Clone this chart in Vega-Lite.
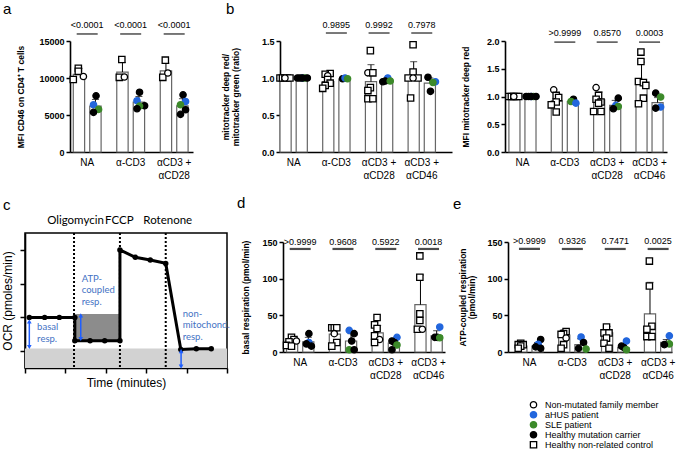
{
"$schema":"https://vega.github.io/schema/vega-lite/v6.json",
"autosize":"none",
"padding":{"left":25,"top":41,"right":652,"bottom":408},
"config":{
 "view":{"stroke":null},
 "font":"Liberation Sans",
 "axis":{"grid":false,"domainColor":"black","domainWidth":1.6,"tickColor":"black","tickWidth":1.5,"labelColor":"black","titleColor":"black","labelFont":"Liberation Sans","titleFont":"Liberation Sans"},
 "axisY":{"labelFontWeight":"bold","labelFontSize":9,"titleFontSize":8.5,"titleFontWeight":"bold","labelPadding":2,"tickSize":4,"titleLineHeight":9.5,"labelOverlap":false,"labelFlush":false},
 "axisX":{"labelFontSize":10,"ticks":false,"labelPadding":5,"labelAngle":0,"labelLineHeight":13},
 "title":{"anchor":"start","frame":"group","fontSize":15,"fontWeight":"normal","font":"Liberation Sans","color":"black","baseline":"alphabetic"},
 "legend":{"orient":"none","legendX":504,"legendY":359,"labelFont":"Liberation Sans","labelFontSize":9,"labelColor":"black","symbolSize":40,"symbolStrokeWidth":1.3,"rowPadding":0,"clipHeight":9.5,"labelOffset":7,"padding":0}
},
"datasets":{
 "a_bars":[
  {"g":"NA","sub":"ctrl","mean":10500,"hi":11300},{"g":"NA","sub":"pat","mean":6200,"hi":7100},
  {"g":"α-CD3","sub":"ctrl","mean":10800,"hi":12100},{"g":"α-CD3","sub":"pat","mean":6750,"hi":7500},
  {"g":"αCD3 + αCD28","sub":"ctrl","mean":10950,"hi":12000},{"g":"αCD3 + αCD28","sub":"pat","mean":6250,"hi":7200}],
 "a_pts":[
  {"g":"NA","slot":"C3","type":"Healthy non-related control","v":11300},
  {"g":"NA","slot":"C3","type":"Healthy non-related control","v":10900},
  {"g":"NA","slot":"C1","type":"Healthy non-related control","v":9800},
  {"g":"NA","slot":"C5","type":"Non-mutated family member","v":10200},
  {"g":"NA","slot":"P3","type":"Healthy mutation carrier","v":7590},
  {"g":"NA","slot":"P2","type":"aHUS patient","v":6380},
  {"g":"NA","slot":"P4","type":"SLE patient","v":5760},
  {"g":"NA","slot":"P2","type":"Healthy mutation carrier","v":5360},
  {"g":"α-CD3","slot":"C3","type":"Healthy non-related control","v":12500},
  {"g":"α-CD3","slot":"C2","type":"Healthy non-related control","v":10090},
  {"g":"α-CD3","slot":"C4","type":"Non-mutated family member","v":10130},
  {"g":"α-CD3","slot":"P3","type":"Healthy mutation carrier","v":8080},
  {"g":"α-CD3","slot":"P2","type":"aHUS patient","v":6920},
  {"g":"α-CD3","slot":"P5","type":"Healthy mutation carrier","v":6250},
  {"g":"α-CD3","slot":"P3","type":"SLE patient","v":6200},
  {"g":"α-CD3","slot":"P2","type":"Healthy mutation carrier","v":5850},
  {"g":"αCD3 + αCD28","slot":"C3","type":"Healthy non-related control","v":12410},
  {"g":"αCD3 + αCD28","slot":"C2","type":"Healthy non-related control","v":10090},
  {"g":"αCD3 + αCD28","slot":"C4","type":"Non-mutated family member","v":10670},
  {"g":"αCD3 + αCD28","slot":"P3","type":"Healthy mutation carrier","v":7720},
  {"g":"αCD3 + αCD28","slot":"P4","type":"aHUS patient","v":6830},
  {"g":"αCD3 + αCD28","slot":"P2","type":"SLE patient","v":6380},
  {"g":"αCD3 + αCD28","slot":"P4","type":"Healthy mutation carrier","v":5710},
  {"g":"αCD3 + αCD28","slot":"P2","type":"Healthy mutation carrier","v":5090}],
 "a_p":[{"g":"NA","p":"<0.0001"},{"g":"α-CD3","p":"<0.0001"},{"g":"αCD3 + αCD28","p":"<0.0001"}],
 "b1_bars":[
  {"g":"NA","sub":"ctrl","mean":1.0,"hi":1.0},{"g":"NA","sub":"pat","mean":1.0,"hi":1.0},
  {"g":"α-CD3","sub":"ctrl","mean":0.95,"hi":1.04},{"g":"α-CD3","sub":"pat","mean":0.985,"hi":1.0},
  {"g":"αCD3 + αCD28","sub":"ctrl","mean":0.95,"hi":1.18},{"g":"αCD3 + αCD28","sub":"pat","mean":0.96,"hi":1.0},
  {"g":"αCD3 + αCD46","sub":"ctrl","mean":0.97,"hi":1.22},{"g":"αCD3 + αCD46","sub":"pat","mean":0.93,"hi":1.0}],
 "b1_pts":[
  {"g":"NA","slot":"C1","type":"Healthy non-related control","v":1.0},
  {"g":"NA","slot":"C2","type":"Healthy non-related control","v":1.0},
  {"g":"NA","slot":"C3","type":"Healthy non-related control","v":1.0},
  {"g":"NA","slot":"C4","type":"Healthy non-related control","v":1.0},
  {"g":"NA","slot":"C5","type":"Healthy non-related control","v":1.0},
  {"g":"NA","slot":"C3","type":"Non-mutated family member","v":1.0},
  {"g":"NA","slot":"P1","type":"Healthy mutation carrier","v":1.0},
  {"g":"NA","slot":"P3","type":"aHUS patient","v":1.0},
  {"g":"NA","slot":"P4","type":"SLE patient","v":1.0},
  {"g":"NA","slot":"P2","type":"Healthy mutation carrier","v":1.0},
  {"g":"NA","slot":"P5","type":"Healthy mutation carrier","v":1.0},
  {"g":"NA","slot":"P3","type":"Healthy mutation carrier","v":1.0},
  {"g":"α-CD3","slot":"C4","type":"Healthy non-related control","v":1.06},
  {"g":"α-CD3","slot":"C2","type":"Healthy non-related control","v":1.05},
  {"g":"α-CD3","slot":"C3","type":"Non-mutated family member","v":1.03},
  {"g":"α-CD3","slot":"C3","type":"Healthy non-related control","v":0.98},
  {"g":"α-CD3","slot":"C4","type":"Healthy non-related control","v":0.93},
  {"g":"α-CD3","slot":"C2","type":"Healthy non-related control","v":0.9},
  {"g":"α-CD3","slot":"C1","type":"Healthy non-related control","v":0.86},
  {"g":"α-CD3","slot":"P2","type":"Healthy mutation carrier","v":0.99},
  {"g":"α-CD3","slot":"P3","type":"aHUS patient","v":1.0},
  {"g":"α-CD3","slot":"P4","type":"SLE patient","v":0.99},
  {"g":"αCD3 + αCD28","slot":"C3","type":"Healthy non-related control","v":1.37},
  {"g":"αCD3 + αCD28","slot":"C2","type":"Non-mutated family member","v":1.07},
  {"g":"αCD3 + αCD28","slot":"C4","type":"Healthy non-related control","v":1.07},
  {"g":"αCD3 + αCD28","slot":"C3","type":"Healthy non-related control","v":0.87},
  {"g":"αCD3 + αCD28","slot":"C2","type":"Healthy non-related control","v":0.83},
  {"g":"αCD3 + αCD28","slot":"C2","type":"Healthy non-related control","v":0.72},
  {"g":"αCD3 + αCD28","slot":"C4","type":"Healthy non-related control","v":0.72},
  {"g":"αCD3 + αCD28","slot":"P1","type":"Healthy mutation carrier","v":0.95},
  {"g":"αCD3 + αCD28","slot":"P3","type":"aHUS patient","v":1.0},
  {"g":"αCD3 + αCD28","slot":"P2","type":"Healthy mutation carrier","v":0.96},
  {"g":"αCD3 + αCD28","slot":"P4","type":"SLE patient","v":0.96},
  {"g":"αCD3 + αCD46","slot":"C3","type":"Healthy non-related control","v":1.45},
  {"g":"αCD3 + αCD46","slot":"C3","type":"Healthy non-related control","v":1.08},
  {"g":"αCD3 + αCD46","slot":"C1","type":"Healthy non-related control","v":1.0},
  {"g":"αCD3 + αCD46","slot":"C5","type":"Healthy non-related control","v":1.0},
  {"g":"αCD3 + αCD46","slot":"C3","type":"Non-mutated family member","v":1.0},
  {"g":"αCD3 + αCD46","slot":"C2","type":"Healthy non-related control","v":0.73},
  {"g":"αCD3 + αCD46","slot":"P2","type":"Healthy mutation carrier","v":1.01},
  {"g":"αCD3 + αCD46","slot":"P5","type":"aHUS patient","v":0.95},
  {"g":"αCD3 + αCD46","slot":"P4","type":"SLE patient","v":0.94},
  {"g":"αCD3 + αCD46","slot":"P3","type":"Healthy mutation carrier","v":0.82}],
 "b1_p":[{"g":"α-CD3","p":"0.9895"},{"g":"αCD3 + αCD28","p":"0.9992"},{"g":"αCD3 + αCD46","p":"0.7978"}],
 "b2_bars":[
  {"g":"NA","sub":"ctrl","mean":1.0,"hi":1.0},{"g":"NA","sub":"pat","mean":1.0,"hi":1.0},
  {"g":"α-CD3","sub":"ctrl","mean":0.92,"hi":1.05},{"g":"α-CD3","sub":"pat","mean":0.91,"hi":0.95},
  {"g":"αCD3 + αCD28","sub":"ctrl","mean":0.94,"hi":1.08},{"g":"αCD3 + αCD28","sub":"pat","mean":0.84,"hi":0.93},
  {"g":"αCD3 + αCD46","sub":"ctrl","mean":1.25,"hi":1.62},{"g":"αCD3 + αCD46","sub":"pat","mean":0.89,"hi":0.98}],
 "b2_pts":[
  {"g":"NA","slot":"C1","type":"Healthy non-related control","v":1.0},
  {"g":"NA","slot":"C2","type":"Healthy non-related control","v":1.0},
  {"g":"NA","slot":"C3","type":"Healthy non-related control","v":1.0},
  {"g":"NA","slot":"C4","type":"Healthy non-related control","v":1.0},
  {"g":"NA","slot":"C5","type":"Healthy non-related control","v":1.0},
  {"g":"NA","slot":"C3","type":"Non-mutated family member","v":1.0},
  {"g":"NA","slot":"P1","type":"Healthy mutation carrier","v":1.0},
  {"g":"NA","slot":"P3","type":"aHUS patient","v":1.0},
  {"g":"NA","slot":"P4","type":"SLE patient","v":1.0},
  {"g":"NA","slot":"P2","type":"Healthy mutation carrier","v":1.0},
  {"g":"NA","slot":"P5","type":"Healthy mutation carrier","v":1.0},
  {"g":"NA","slot":"P3","type":"Healthy mutation carrier","v":1.0},
  {"g":"α-CD3","slot":"C2","type":"Non-mutated family member","v":1.12},
  {"g":"α-CD3","slot":"C3","type":"Healthy non-related control","v":1.02},
  {"g":"α-CD3","slot":"C4","type":"Healthy non-related control","v":0.98},
  {"g":"α-CD3","slot":"C3","type":"Healthy non-related control","v":0.9},
  {"g":"α-CD3","slot":"C1","type":"Healthy non-related control","v":0.85},
  {"g":"α-CD3","slot":"C3","type":"Healthy non-related control","v":0.72},
  {"g":"α-CD3","slot":"P3","type":"Healthy mutation carrier","v":0.95},
  {"g":"α-CD3","slot":"P2","type":"SLE patient","v":0.91},
  {"g":"α-CD3","slot":"P4","type":"aHUS patient","v":0.88},
  {"g":"αCD3 + αCD28","slot":"C2","type":"Non-mutated family member","v":1.16},
  {"g":"αCD3 + αCD28","slot":"C3","type":"Healthy non-related control","v":1.02},
  {"g":"αCD3 + αCD28","slot":"C2","type":"Healthy non-related control","v":0.95},
  {"g":"αCD3 + αCD28","slot":"C4","type":"Healthy non-related control","v":0.9},
  {"g":"αCD3 + αCD28","slot":"C3","type":"Healthy non-related control","v":0.88},
  {"g":"αCD3 + αCD28","slot":"C1","type":"Healthy non-related control","v":0.73},
  {"g":"αCD3 + αCD28","slot":"C4","type":"Healthy non-related control","v":0.73},
  {"g":"αCD3 + αCD28","slot":"P4","type":"Healthy mutation carrier","v":0.97},
  {"g":"αCD3 + αCD28","slot":"P3","type":"aHUS patient","v":0.84},
  {"g":"αCD3 + αCD28","slot":"P4","type":"SLE patient","v":0.82},
  {"g":"αCD3 + αCD28","slot":"P2","type":"Healthy mutation carrier","v":0.78},
  {"g":"αCD3 + αCD46","slot":"C3","type":"Healthy non-related control","v":1.8},
  {"g":"αCD3 + αCD46","slot":"C3","type":"Healthy non-related control","v":1.63},
  {"g":"αCD3 + αCD46","slot":"C2","type":"Healthy non-related control","v":1.27},
  {"g":"αCD3 + αCD46","slot":"C4","type":"Healthy non-related control","v":1.25},
  {"g":"αCD3 + αCD46","slot":"C5","type":"Healthy non-related control","v":1.2},
  {"g":"αCD3 + αCD46","slot":"C4","type":"Healthy non-related control","v":0.97},
  {"g":"αCD3 + αCD46","slot":"C2","type":"Healthy non-related control","v":0.87},
  {"g":"αCD3 + αCD46","slot":"P2","type":"Healthy mutation carrier","v":1.06},
  {"g":"αCD3 + αCD46","slot":"P4","type":"SLE patient","v":0.99},
  {"g":"αCD3 + αCD46","slot":"P4","type":"aHUS patient","v":0.81},
  {"g":"αCD3 + αCD46","slot":"P2","type":"Healthy mutation carrier","v":0.79}],
 "b2_p":[{"g":"α-CD3","p":">0.9999"},{"g":"αCD3 + αCD28","p":"0.8570"},{"g":"αCD3 + αCD46","p":"0.0003"}],
 "d_bars":[
  {"g":"NA","sub":"ctrl","mean":13,"hi":17},{"g":"NA","sub":"pat","mean":14,"hi":20},
  {"g":"α-CD3","sub":"ctrl","mean":24.5,"hi":33},{"g":"α-CD3","sub":"pat","mean":15,"hi":25},
  {"g":"αCD3 + αCD28","sub":"ctrl","mean":26,"hi":36},{"g":"αCD3 + αCD28","sub":"pat","mean":12,"hi":17},
  {"g":"αCD3 + αCD46","sub":"ctrl","mean":64.5,"hi":105},{"g":"αCD3 + αCD46","sub":"pat","mean":22,"hi":29}],
 "d_pts":[
  {"g":"NA","slot":"C3","type":"Healthy non-related control","v":20},
  {"g":"NA","slot":"C4","type":"Healthy non-related control","v":17},
  {"g":"NA","slot":"C2","type":"Healthy non-related control","v":14},
  {"g":"NA","slot":"C1","type":"Healthy non-related control","v":9},
  {"g":"NA","slot":"C3","type":"Healthy non-related control","v":8},
  {"g":"NA","slot":"C5","type":"Non-mutated family member","v":15},
  {"g":"NA","slot":"P3","type":"Healthy mutation carrier","v":25},
  {"g":"NA","slot":"P3","type":"aHUS patient","v":13},
  {"g":"NA","slot":"P2","type":"Healthy mutation carrier","v":11},
  {"g":"NA","slot":"P4","type":"Healthy mutation carrier","v":8},
  {"g":"α-CD3","slot":"C2","type":"Healthy non-related control","v":33},
  {"g":"α-CD3","slot":"C3","type":"Healthy non-related control","v":33},
  {"g":"α-CD3","slot":"C4","type":"Healthy non-related control","v":33},
  {"g":"α-CD3","slot":"C3","type":"Non-mutated family member","v":25},
  {"g":"α-CD3","slot":"C4","type":"Healthy non-related control","v":13},
  {"g":"α-CD3","slot":"C2","type":"Healthy non-related control","v":8},
  {"g":"α-CD3","slot":"P2","type":"aHUS patient","v":29.5},
  {"g":"α-CD3","slot":"P4","type":"Healthy mutation carrier","v":25},
  {"g":"α-CD3","slot":"P3","type":"Healthy mutation carrier","v":15},
  {"g":"α-CD3","slot":"P2","type":"SLE patient","v":3},
  {"g":"α-CD3","slot":"P4","type":"Healthy mutation carrier","v":3},
  {"g":"αCD3 + αCD28","slot":"C3","type":"Healthy non-related control","v":47},
  {"g":"αCD3 + αCD28","slot":"C2","type":"Healthy non-related control","v":37},
  {"g":"αCD3 + αCD28","slot":"C3","type":"Healthy non-related control","v":32},
  {"g":"αCD3 + αCD28","slot":"C2","type":"Healthy non-related control","v":22},
  {"g":"αCD3 + αCD28","slot":"C4","type":"Non-mutated family member","v":17},
  {"g":"αCD3 + αCD28","slot":"C2","type":"Healthy non-related control","v":13},
  {"g":"αCD3 + αCD28","slot":"P4","type":"aHUS patient","v":20},
  {"g":"αCD3 + αCD28","slot":"P2","type":"Healthy mutation carrier","v":15},
  {"g":"αCD3 + αCD28","slot":"P3","type":"Healthy mutation carrier","v":13},
  {"g":"αCD3 + αCD28","slot":"P4","type":"SLE patient","v":9.5},
  {"g":"αCD3 + αCD28","slot":"P2","type":"Healthy mutation carrier","v":3},
  {"g":"αCD3 + αCD46","slot":"C3","type":"Healthy non-related control","v":131},
  {"g":"αCD3 + αCD46","slot":"C3","type":"Healthy non-related control","v":102},
  {"g":"αCD3 + αCD46","slot":"C3","type":"Healthy non-related control","v":52},
  {"g":"αCD3 + αCD46","slot":"C3","type":"Healthy non-related control","v":43},
  {"g":"αCD3 + αCD46","slot":"C2","type":"Healthy non-related control","v":31},
  {"g":"αCD3 + αCD46","slot":"C4","type":"Non-mutated family member","v":31},
  {"g":"αCD3 + αCD46","slot":"P4","type":"aHUS patient","v":34},
  {"g":"αCD3 + αCD46","slot":"P2","type":"Healthy mutation carrier","v":20},
  {"g":"αCD3 + αCD46","slot":"P3","type":"Healthy mutation carrier","v":20},
  {"g":"αCD3 + αCD46","slot":"P4","type":"SLE patient","v":19.5}],
 "d_p":[{"g":"NA","p":">0.9999"},{"g":"α-CD3","p":"0.9608"},{"g":"αCD3 + αCD28","p":"0.5922"},{"g":"αCD3 + αCD46","p":"0.0018"}],
 "e_bars":[
  {"g":"NA","sub":"ctrl","mean":8,"hi":11},{"g":"NA","sub":"pat","mean":8,"hi":13},
  {"g":"α-CD3","sub":"ctrl","mean":23,"hi":30},{"g":"α-CD3","sub":"pat","mean":10,"hi":18},
  {"g":"αCD3 + αCD28","sub":"ctrl","mean":26,"hi":35},{"g":"αCD3 + αCD28","sub":"pat","mean":6,"hi":11},
  {"g":"αCD3 + αCD46","sub":"ctrl","mean":52,"hi":95},{"g":"αCD3 + αCD46","sub":"pat","mean":13,"hi":17}],
 "e_pts":[
  {"g":"NA","slot":"C3","type":"Healthy non-related control","v":12},
  {"g":"NA","slot":"C2","type":"Healthy non-related control","v":10},
  {"g":"NA","slot":"C4","type":"Healthy non-related control","v":10},
  {"g":"NA","slot":"C3","type":"Healthy non-related control","v":8},
  {"g":"NA","slot":"C2","type":"Healthy non-related control","v":5},
  {"g":"NA","slot":"P4","type":"Healthy mutation carrier","v":17},
  {"g":"NA","slot":"P3","type":"aHUS patient","v":10.5},
  {"g":"NA","slot":"P2","type":"Healthy mutation carrier","v":7},
  {"g":"NA","slot":"P4","type":"Healthy mutation carrier","v":5},
  {"g":"α-CD3","slot":"C4","type":"Healthy non-related control","v":28},
  {"g":"α-CD3","slot":"C3","type":"Healthy non-related control","v":25},
  {"g":"α-CD3","slot":"C2","type":"Healthy non-related control","v":24},
  {"g":"α-CD3","slot":"C4","type":"Non-mutated family member","v":19},
  {"g":"α-CD3","slot":"C3","type":"Healthy non-related control","v":10},
  {"g":"α-CD3","slot":"C2","type":"Healthy non-related control","v":5},
  {"g":"α-CD3","slot":"P3","type":"aHUS patient","v":20.5},
  {"g":"α-CD3","slot":"P4","type":"Healthy mutation carrier","v":13},
  {"g":"α-CD3","slot":"P2","type":"Healthy mutation carrier","v":5},
  {"g":"α-CD3","slot":"P5","type":"SLE patient","v":4},
  {"g":"αCD3 + αCD28","slot":"C3","type":"Healthy non-related control","v":34},
  {"g":"αCD3 + αCD28","slot":"C2","type":"Healthy non-related control","v":26},
  {"g":"αCD3 + αCD28","slot":"C4","type":"Healthy non-related control","v":26},
  {"g":"αCD3 + αCD28","slot":"C3","type":"Healthy non-related control","v":19},
  {"g":"αCD3 + αCD28","slot":"C2","type":"Healthy non-related control","v":12},
  {"g":"αCD3 + αCD28","slot":"C4","type":"Healthy non-related control","v":5},
  {"g":"αCD3 + αCD28","slot":"P4","type":"aHUS patient","v":15},
  {"g":"αCD3 + αCD28","slot":"P2","type":"Healthy mutation carrier","v":8},
  {"g":"αCD3 + αCD28","slot":"P3","type":"Healthy mutation carrier","v":6},
  {"g":"αCD3 + αCD28","slot":"P4","type":"SLE patient","v":3},
  {"g":"αCD3 + αCD46","slot":"C3","type":"Healthy non-related control","v":124},
  {"g":"αCD3 + αCD46","slot":"C3","type":"Healthy non-related control","v":90},
  {"g":"αCD3 + αCD46","slot":"C4","type":"Healthy non-related control","v":35},
  {"g":"αCD3 + αCD46","slot":"C2","type":"Healthy non-related control","v":31},
  {"g":"αCD3 + αCD46","slot":"C2","type":"Healthy non-related control","v":21},
  {"g":"αCD3 + αCD46","slot":"C4","type":"Healthy non-related control","v":21},
  {"g":"αCD3 + αCD46","slot":"P4","type":"aHUS patient","v":22},
  {"g":"αCD3 + αCD46","slot":"P4","type":"SLE patient","v":11},
  {"g":"αCD3 + αCD46","slot":"P2","type":"Healthy mutation carrier","v":10}],
 "e_p":[{"g":"NA","p":">0.9999"},{"g":"α-CD3","p":"0.9326"},{"g":"αCD3 + αCD28","p":"0.7471"},{"g":"αCD3 + αCD46","p":"0.0025"}],
 "c_rect":[{"shade":"light","x0":0,"x1":150,"y0":0,"y1":0.58},{"shade":"dark","x0":37,"x1":70.5,"y0":0.81,"y1":1.6}],
 "c_inj":[{"t":36.4,"lab":"Oligomycin","lx":37.5},{"t":70.5,"lab":"FCCP","lx":70},{"t":104.5,"lab":"Rotenone","lx":106}],
 "c_line":[
  {"i":1,"t":3.2,"ocr":1.5},{"i":2,"t":14.6,"ocr":1.5},{"i":3,"t":25.5,"ocr":1.5},{"i":4,"t":37,"ocr":1.5},
  {"i":5,"t":37,"ocr":0.81},{"i":6,"t":48.3,"ocr":0.81},{"i":7,"t":59.2,"ocr":0.81},{"i":8,"t":70.5,"ocr":0.81},
  {"i":9,"t":70.5,"ocr":3.5},{"i":10,"t":81.9,"ocr":3.28},{"i":11,"t":93,"ocr":3.2},{"i":12,"t":104.5,"ocr":3.1},
  {"i":13,"t":115.7,"ocr":0.55},{"i":14,"t":127.2,"ocr":0.57},{"i":15,"t":138.3,"ocr":0.57}],
 "c_arrows":[{"x":3.2,"y0":0.62,"y1":1.38},{"x":41.4,"y0":0.86,"y1":1.56},{"x":115.9,"y0":0.04,"y1":0.5}],
 "c_text":[{"x":9.0,"y":1.36,"txt":"basal\nresp."},{"x":42.1,"y":2.79,"txt":"ATP-\ncoupled\nresp."},{"x":117.1,"y":1.75,"txt":"non-\nmitochond.\nresp."}]
},
"bounds":"flush",
"columns":3,
"spacing":{"row":81,"column":53},
"concat":[
 {"width":168,"height":111,
  "title":{"text":"a","dx":-22,"offset":4.5},
  "encoding":{"x":{"field":"g","type":"nominal","scale":{"domain":["NA","α-CD3","αCD3 + αCD28"],"range":[45,168],"paddingInner":0.36,"paddingOuter":0.094,"align":0.4},"axis":{"title":null,"labelExpr":"indexof(datum.label,'+') > 0 ? [slice(datum.label,0,6), slice(datum.label,7)] : datum.label"}}},
  "layer":[
   {"data":{"name":"a_bars"},"mark":{"type":"bar","fill":"white","stroke":"#666","strokeWidth":1.2},
    "encoding":{"xOffset":{"field":"sub","type":"nominal","scale":{"domain":["ctrl","pat"],"paddingInner":0.31,"paddingOuter":0}},
     "y":{"field":"mean","type":"quantitative","scale":{"domain":[0,15000],"nice":false},"axis":{"title":"MFI CD46 on CD4⁺ T cells","tickCount":3,"format":"d","titlePadding":13,"offset":-45,"labelOverlap":false,"labelSeparation":-30}}}},
   {"data":{"name":"a_bars"},"mark":{"type":"rule","color":"black","strokeWidth":1},
    "encoding":{"xOffset":{"field":"sub","type":"nominal","scale":{"domain":["ctrl","pat"],"paddingInner":0.31,"paddingOuter":0}},"y":{"field":"mean","type":"quantitative"},"y2":{"field":"hi"}}},
   {"data":{"name":"a_bars"},"mark":{"type":"tick","orient":"horizontal","size":7,"thickness":1,"color":"black"},
    "encoding":{"xOffset":{"field":"sub","type":"nominal","scale":{"domain":["ctrl","pat"],"paddingInner":0.31,"paddingOuter":0}},"y":{"field":"hi","type":"quantitative"}}},
   {"data":{"name":"a_pts"},"mark":{"type":"point","filled":true,"size":40,"strokeWidth":1.3,"opacity":1},
    "encoding":{"xOffset":{"field":"slot","type":"nominal","scale":{"domain":["C1","C2","C3","C4","C5","g1","g2","P1","P2","P3","P4","P5"],"paddingInner":0,"paddingOuter":0}},
     "y":{"field":"v","type":"quantitative"},
     "shape":{"field":"type","type":"nominal","title":null,"scale":{"domain":["Non-mutated family member","aHUS patient","SLE patient","Healthy mutation carrier","Healthy non-related control"],"range":["circle","circle","circle","circle","square"]}},
     "fill":{"field":"type","type":"nominal","title":null,"scale":{"domain":["Non-mutated family member","aHUS patient","SLE patient","Healthy mutation carrier","Healthy non-related control"],"range":["white","#2266dd","#3c8a2a","black","white"]}},
     "stroke":{"field":"type","type":"nominal","title":null,"scale":{"domain":["Non-mutated family member","aHUS patient","SLE patient","Healthy mutation carrier","Healthy non-related control"],"range":["black","#2266dd","#3c8a2a","black","black"]}}}},
   {"data":{"name":"a_p"},"mark":{"type":"text","fontSize":9,"baseline":"middle","color":"black"},
    "encoding":{"y":{"datum":17150,"type":"quantitative"},"text":{"field":"p"}}},
   {"data":{"name":"a_p"},"mark":{"type":"tick","orient":"horizontal","size":21,"thickness":1.5,"color":"black"},
    "encoding":{"y":{"datum":15950,"type":"quantitative"}}}
  ],
  "resolve":{"scale":{"xOffset":"independent"}}},
 {"width":172,"height":111,
  "title":{"text":"b","dx":-54,"offset":4.5},
  "encoding":{"x":{"field":"g","type":"nominal","scale":{"domain":["NA","α-CD3","αCD3 + αCD28","αCD3 + αCD46"],"paddingInner":0.36,"paddingOuter":0.194,"align":0},"axis":{"title":null,"labelExpr":"indexof(datum.label,'+') > 0 ? [slice(datum.label,0,6), slice(datum.label,7)] : datum.label"}}},
  "layer":[
   {"data":{"name":"b1_bars"},"mark":{"type":"bar","fill":"white","stroke":"#666","strokeWidth":1.2},
    "encoding":{"xOffset":{"field":"sub","type":"nominal","scale":{"domain":["ctrl","pat"],"paddingInner":0.31,"paddingOuter":0}},
     "y":{"field":"mean","type":"quantitative","scale":{"domain":[0,1.5],"nice":false},"axis":{"title":["mitotracker deep red/","mitotracker green (ratio)"],"tickCount":3,"format":".1f","titlePadding":21,"labelOverlap":false,"labelSeparation":-30}}}},
   {"data":{"name":"b1_bars"},"mark":{"type":"rule","color":"black","strokeWidth":1},
    "encoding":{"xOffset":{"field":"sub","type":"nominal","scale":{"domain":["ctrl","pat"],"paddingInner":0.31,"paddingOuter":0}},"y":{"field":"mean","type":"quantitative"},"y2":{"field":"hi"}}},
   {"data":{"name":"b1_bars"},"mark":{"type":"tick","orient":"horizontal","size":7,"thickness":1,"color":"black"},
    "encoding":{"xOffset":{"field":"sub","type":"nominal","scale":{"domain":["ctrl","pat"],"paddingInner":0.31,"paddingOuter":0}},"y":{"field":"hi","type":"quantitative"}}},
   {"data":{"name":"b1_pts"},"mark":{"type":"point","filled":true,"size":40,"strokeWidth":1.3,"opacity":1},
    "encoding":{"xOffset":{"field":"slot","type":"nominal","scale":{"domain":["C1","C2","C3","C4","C5","g1","g2","P1","P2","P3","P4","P5"],"paddingInner":0,"paddingOuter":0}},
     "y":{"field":"v","type":"quantitative"},
     "shape":{"field":"type","type":"nominal","title":null,"scale":{"domain":["Non-mutated family member","aHUS patient","SLE patient","Healthy mutation carrier","Healthy non-related control"],"range":["circle","circle","circle","circle","square"]}},
     "fill":{"field":"type","type":"nominal","title":null,"scale":{"domain":["Non-mutated family member","aHUS patient","SLE patient","Healthy mutation carrier","Healthy non-related control"],"range":["white","#2266dd","#3c8a2a","black","white"]}},
     "stroke":{"field":"type","type":"nominal","title":null,"scale":{"domain":["Non-mutated family member","aHUS patient","SLE patient","Healthy mutation carrier","Healthy non-related control"],"range":["black","#2266dd","#3c8a2a","black","black"]}}}},
   {"data":{"name":"b1_p"},"mark":{"type":"text","fontSize":9,"baseline":"middle","color":"black"},
    "encoding":{"y":{"datum":1.716,"type":"quantitative"},"text":{"field":"p"}}},
   {"data":{"name":"b1_p"},"mark":{"type":"tick","orient":"horizontal","size":21,"thickness":1.5,"color":"black"},
    "encoding":{"y":{"datum":1.608,"type":"quantitative"}}}
  ],
  "resolve":{"scale":{"xOffset":"independent"}}},
 {"width":164,"height":111,
  "encoding":{"x":{"field":"g","type":"nominal","scale":{"domain":["NA","α-CD3","αCD3 + αCD28","αCD3 + αCD46"],"range":[0,162],"paddingInner":0.36,"paddingOuter":0.092,"align":0.5},"axis":{"title":null,"labelExpr":"indexof(datum.label,'+') > 0 ? [slice(datum.label,0,6), slice(datum.label,7)] : datum.label"}}},
  "layer":[
   {"data":{"name":"b2_bars"},"mark":{"type":"bar","fill":"white","stroke":"#666","strokeWidth":1.2},
    "encoding":{"xOffset":{"field":"sub","type":"nominal","scale":{"domain":["ctrl","pat"],"paddingInner":0.31,"paddingOuter":0}},
     "y":{"field":"mean","type":"quantitative","scale":{"domain":[0,2],"nice":false},"axis":{"title":"MFI mitotracker deep red","tickCount":4,"format":".1f","titlePadding":16,"labelOverlap":false,"labelSeparation":-30}}}},
   {"data":{"name":"b2_bars"},"mark":{"type":"rule","color":"black","strokeWidth":1},
    "encoding":{"xOffset":{"field":"sub","type":"nominal","scale":{"domain":["ctrl","pat"],"paddingInner":0.31,"paddingOuter":0}},"y":{"field":"mean","type":"quantitative"},"y2":{"field":"hi"}}},
   {"data":{"name":"b2_bars"},"mark":{"type":"tick","orient":"horizontal","size":7,"thickness":1,"color":"black"},
    "encoding":{"xOffset":{"field":"sub","type":"nominal","scale":{"domain":["ctrl","pat"],"paddingInner":0.31,"paddingOuter":0}},"y":{"field":"hi","type":"quantitative"}}},
   {"data":{"name":"b2_pts"},"mark":{"type":"point","filled":true,"size":40,"strokeWidth":1.3,"opacity":1},
    "encoding":{"xOffset":{"field":"slot","type":"nominal","scale":{"domain":["C1","C2","C3","C4","C5","g1","g2","P1","P2","P3","P4","P5"],"paddingInner":0,"paddingOuter":0}},
     "y":{"field":"v","type":"quantitative"},
     "shape":{"field":"type","type":"nominal","title":null,"scale":{"domain":["Non-mutated family member","aHUS patient","SLE patient","Healthy mutation carrier","Healthy non-related control"],"range":["circle","circle","circle","circle","square"]}},
     "fill":{"field":"type","type":"nominal","title":null,"scale":{"domain":["Non-mutated family member","aHUS patient","SLE patient","Healthy mutation carrier","Healthy non-related control"],"range":["white","#2266dd","#3c8a2a","black","white"]}},
     "stroke":{"field":"type","type":"nominal","title":null,"scale":{"domain":["Non-mutated family member","aHUS patient","SLE patient","Healthy mutation carrier","Healthy non-related control"],"range":["black","#2266dd","#3c8a2a","black","black"]}}}},
   {"data":{"name":"b2_p"},"mark":{"type":"text","fontSize":9,"baseline":"middle","color":"black"},
    "encoding":{"y":{"datum":2.144,"type":"quantitative"},"text":{"field":"p"}}},
   {"data":{"name":"b2_p"},"mark":{"type":"tick","orient":"horizontal","size":21,"thickness":1.5,"color":"black"},
    "encoding":{"y":{"datum":1.98,"type":"quantitative"}}}
  ],
  "resolve":{"scale":{"xOffset":"independent"}}},
 {"width":202,"height":135,
  "view":{"stroke":"black","strokeWidth":1.5},
  "title":{"text":"c","dx":-22,"offset":2},
  "layer":[
   {"data":{"name":"c_rect"},"mark":{"type":"rect"},
    "encoding":{"x":{"field":"x0","type":"quantitative","scale":{"domain":[0,150],"nice":false,"zero":false},"axis":{"title":"Time (minutes)","values":[0,30,60,90,120,150],"labels":false,"ticks":true,"tickSize":5,"titleFontSize":12,"titleFontWeight":"normal","titlePadding":4}},
     "x2":{"field":"x1"},
     "y":{"field":"y0","type":"quantitative","scale":{"domain":[0,4],"nice":false},"axis":{"title":"OCR (pmoles/min)","values":[0.5,1.5,2.5,3.5],"labels":false,"ticks":true,"tickSize":5,"titleFontSize":12,"titleFontWeight":"normal","titlePadding":5}},
     "y2":{"field":"y1"},
     "color":{"field":"shade","type":"nominal","scale":{"domain":["light","dark"],"range":["#d2d2d2","#8c8c8c"]},"legend":null}}},
   {"data":{"name":"c_inj"},"mark":{"type":"rule","strokeDash":[2,2],"strokeWidth":2,"color":"black"},
    "encoding":{"x":{"field":"t","type":"quantitative"}}},
   {"data":{"name":"c_line"},"mark":{"type":"line","color":"black","strokeWidth":3,"point":{"filled":true,"size":30,"color":"black"}},
    "encoding":{"x":{"field":"t","type":"quantitative"},"y":{"field":"ocr","type":"quantitative"},"order":{"field":"i"}}},
   {"data":{"name":"c_arrows"},"mark":{"type":"rule","color":"#1f5fff","strokeWidth":1.5},
    "encoding":{"x":{"field":"x","type":"quantitative"},"y":{"field":"y0","type":"quantitative"},"y2":{"field":"y1"}}},
   {"data":{"name":"c_arrows"},"mark":{"type":"point","shape":"triangle-up","filled":true,"size":22,"color":"#1f5fff","opacity":1},
    "encoding":{"x":{"field":"x","type":"quantitative"},"y":{"field":"y1","type":"quantitative"}}},
   {"data":{"name":"c_arrows"},"mark":{"type":"point","shape":"triangle-down","filled":true,"size":22,"color":"#1f5fff","opacity":1},
    "encoding":{"x":{"field":"x","type":"quantitative"},"y":{"field":"y0","type":"quantitative"}}},
   {"data":{"name":"c_text"},"mark":{"type":"text","align":"left","baseline":"top","lineBreak":"\n","font":"Lato","fontSize":9.5,"lineHeight":11.5,"color":"#4472c4"},
    "encoding":{"x":{"field":"x","type":"quantitative"},"y":{"field":"y","type":"quantitative"},"text":{"field":"txt"}}},
   {"data":{"name":"c_inj"},"mark":{"type":"text","font":"Lato","fontSize":11.5,"baseline":"middle","color":"black"},
    "encoding":{"x":{"field":"lx","type":"quantitative"},"y":{"datum":4.36,"type":"quantitative"},"text":{"field":"lab"}}}
  ]},
 {"width":165,"height":119,
  "title":{"text":"d","dx":-43,"offset":22},
  "encoding":{"x":{"field":"g","type":"nominal","scale":{"domain":["NA","α-CD3","αCD3 + αCD28","αCD3 + αCD46"],"range":[3,165],"paddingInner":0.36,"paddingOuter":0.073,"align":0.56},"axis":{"title":null,"labelExpr":"indexof(datum.label,'+') > 0 ? [slice(datum.label,0,6), slice(datum.label,7)] : datum.label"}}},
  "layer":[
   {"data":{"name":"d_bars"},"mark":{"type":"bar","fill":"white","stroke":"#666","strokeWidth":1.2},
    "encoding":{"xOffset":{"field":"sub","type":"nominal","scale":{"domain":["ctrl","pat"],"paddingInner":0.31,"paddingOuter":0}},
     "y":{"field":"mean","type":"quantitative","scale":{"domain":[0,150],"nice":false,"range":[119,9]},"axis":{"title":"basal respiration (pmol/min)","tickCount":3,"format":"d","titlePadding":11,"offset":-3,"labelOverlap":false,"labelSeparation":-30}}}},
   {"data":{"name":"d_bars"},"mark":{"type":"rule","color":"black","strokeWidth":1},
    "encoding":{"xOffset":{"field":"sub","type":"nominal","scale":{"domain":["ctrl","pat"],"paddingInner":0.31,"paddingOuter":0}},"y":{"field":"mean","type":"quantitative"},"y2":{"field":"hi"}}},
   {"data":{"name":"d_bars"},"mark":{"type":"tick","orient":"horizontal","size":7,"thickness":1,"color":"black"},
    "encoding":{"xOffset":{"field":"sub","type":"nominal","scale":{"domain":["ctrl","pat"],"paddingInner":0.31,"paddingOuter":0}},"y":{"field":"hi","type":"quantitative"}}},
   {"data":{"name":"d_pts"},"mark":{"type":"point","filled":true,"size":40,"strokeWidth":1.3,"opacity":1},
    "encoding":{"xOffset":{"field":"slot","type":"nominal","scale":{"domain":["C1","C2","C3","C4","C5","g1","g2","P1","P2","P3","P4","P5"],"paddingInner":0,"paddingOuter":0}},
     "y":{"field":"v","type":"quantitative"},
     "shape":{"field":"type","type":"nominal","title":null,"scale":{"domain":["Non-mutated family member","aHUS patient","SLE patient","Healthy mutation carrier","Healthy non-related control"],"range":["circle","circle","circle","circle","square"]}},
     "fill":{"field":"type","type":"nominal","title":null,"scale":{"domain":["Non-mutated family member","aHUS patient","SLE patient","Healthy mutation carrier","Healthy non-related control"],"range":["white","#2266dd","#3c8a2a","black","white"]}},
     "stroke":{"field":"type","type":"nominal","title":null,"scale":{"domain":["Non-mutated family member","aHUS patient","SLE patient","Healthy mutation carrier","Healthy non-related control"],"range":["black","#2266dd","#3c8a2a","black","black"]}}}},
   {"data":{"name":"d_p"},"mark":{"type":"text","fontSize":9,"baseline":"middle","color":"black"},
    "encoding":{"y":{"datum":150,"type":"quantitative"},"text":{"field":"p"}}},
   {"data":{"name":"d_p"},"mark":{"type":"tick","orient":"horizontal","size":21,"thickness":2.2,"color":"black"},
    "encoding":{"y":{"datum":140.5,"type":"quantitative"}}}
  ],
  "resolve":{"scale":{"xOffset":"independent"}}},
 {"width":167,"height":119,
  "title":{"text":"e","dx":-52,"offset":21.5},
  "encoding":{"x":{"field":"g","type":"nominal","scale":{"domain":["NA","α-CD3","αCD3 + αCD28","αCD3 + αCD46"],"range":[3,167],"paddingInner":0.36,"paddingOuter":0.092,"align":0.98},"axis":{"title":null,"labelExpr":"indexof(datum.label,'+') > 0 ? [slice(datum.label,0,6), slice(datum.label,7)] : datum.label"}}},
  "layer":[
   {"data":{"name":"e_bars"},"mark":{"type":"bar","fill":"white","stroke":"#666","strokeWidth":1.2},
    "encoding":{"xOffset":{"field":"sub","type":"nominal","scale":{"domain":["ctrl","pat"],"paddingInner":0.31,"paddingOuter":0}},
     "y":{"field":"mean","type":"quantitative","scale":{"domain":[0,150],"nice":false,"range":[119,9]},"axis":{"title":["ATP-coupled respiration","(pmol/min)"],"tickCount":3,"format":"d","titlePadding":10,"offset":-3,"labelOverlap":false,"labelSeparation":-30}}}},
   {"data":{"name":"e_bars"},"mark":{"type":"rule","color":"black","strokeWidth":1},
    "encoding":{"xOffset":{"field":"sub","type":"nominal","scale":{"domain":["ctrl","pat"],"paddingInner":0.31,"paddingOuter":0}},"y":{"field":"mean","type":"quantitative"},"y2":{"field":"hi"}}},
   {"data":{"name":"e_bars"},"mark":{"type":"tick","orient":"horizontal","size":7,"thickness":1,"color":"black"},
    "encoding":{"xOffset":{"field":"sub","type":"nominal","scale":{"domain":["ctrl","pat"],"paddingInner":0.31,"paddingOuter":0}},"y":{"field":"hi","type":"quantitative"}}},
   {"data":{"name":"e_pts"},"mark":{"type":"point","filled":true,"size":40,"strokeWidth":1.3,"opacity":1},
    "encoding":{"xOffset":{"field":"slot","type":"nominal","scale":{"domain":["C1","C2","C3","C4","C5","g1","g2","P1","P2","P3","P4","P5"],"paddingInner":0,"paddingOuter":0}},
     "y":{"field":"v","type":"quantitative"},
     "shape":{"field":"type","type":"nominal","title":null,"scale":{"domain":["Non-mutated family member","aHUS patient","SLE patient","Healthy mutation carrier","Healthy non-related control"],"range":["circle","circle","circle","circle","square"]}},
     "fill":{"field":"type","type":"nominal","title":null,"scale":{"domain":["Non-mutated family member","aHUS patient","SLE patient","Healthy mutation carrier","Healthy non-related control"],"range":["white","#2266dd","#3c8a2a","black","white"]}},
     "stroke":{"field":"type","type":"nominal","title":null,"scale":{"domain":["Non-mutated family member","aHUS patient","SLE patient","Healthy mutation carrier","Healthy non-related control"],"range":["black","#2266dd","#3c8a2a","black","black"]}}}},
   {"data":{"name":"e_p"},"mark":{"type":"text","fontSize":9,"baseline":"middle","color":"black"},
    "encoding":{"y":{"datum":151.4,"type":"quantitative"},"text":{"field":"p"}}},
   {"data":{"name":"e_p"},"mark":{"type":"tick","orient":"horizontal","size":21,"thickness":2.2,"color":"black"},
    "encoding":{"y":{"datum":140.5,"type":"quantitative"}}}
  ],
  "resolve":{"scale":{"xOffset":"independent"}}}
]
}
